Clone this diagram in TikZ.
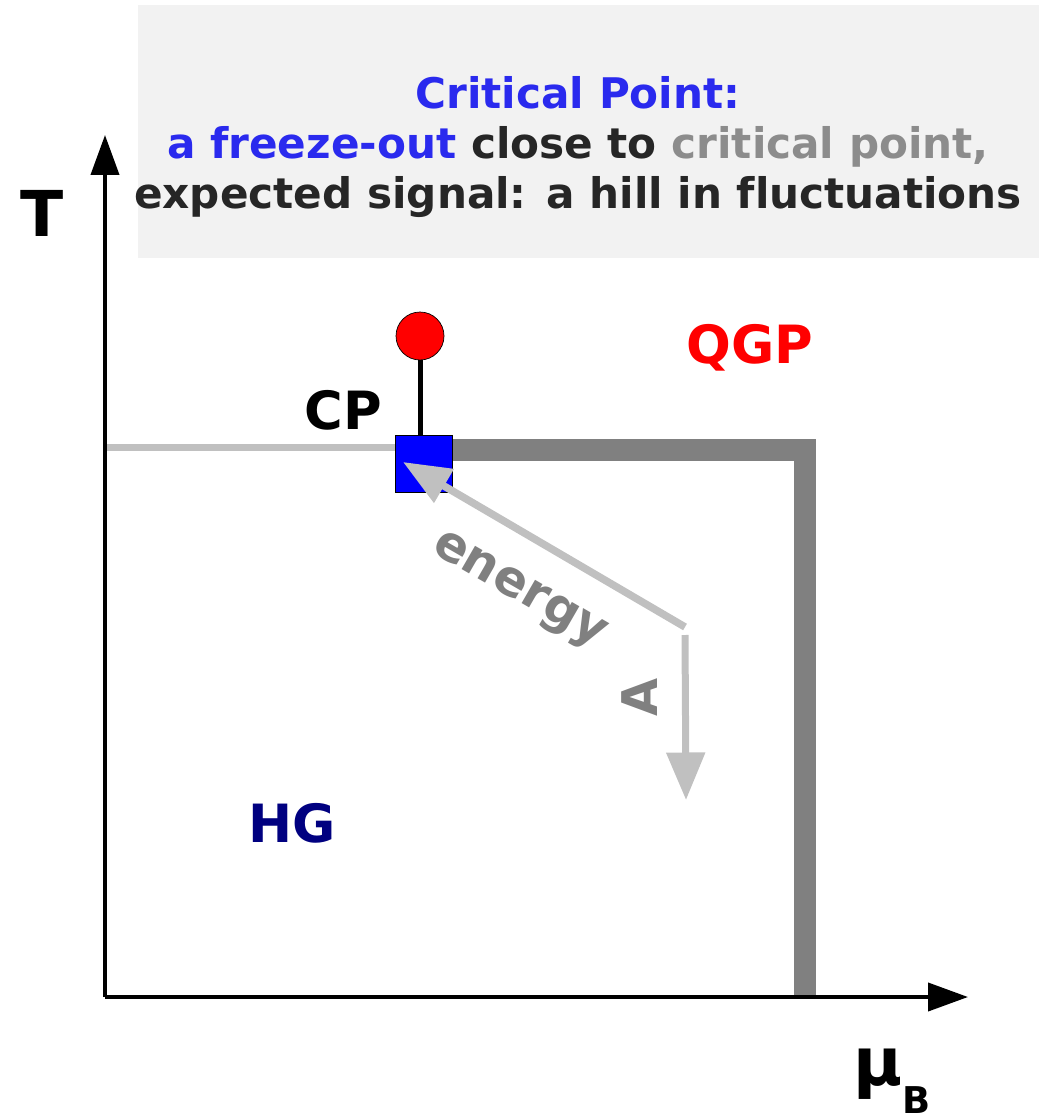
\documentclass[tikz,border=0pt]{standalone}
\usepackage{fontspec}
\setmainfont{DejaVu Sans}[Ligatures=NoCommon]
\usetikzlibrary{arrows.meta}
\definecolor{titleblue}{RGB}{42,42,238}
\definecolor{titledark}{RGB}{38,38,38}
\definecolor{titlegray}{RGB}{140,140,140}
\definecolor{boxgray}{RGB}{242,242,242}
\definecolor{lightline}{RGB}{192,192,192}
\definecolor{darkline}{RGB}{128,128,128}
\definecolor{hgblue}{RGB}{0,0,128}
\begin{document}
\begin{tikzpicture}[
      x = 0.02cm, y = -0.02cm,
      axis/.style = {
        line width = 0.08cm,
        -{Triangle[length=0.8cm,width=0.56cm]}
      }, flow/.style = {
        lightline, line width = 0.15cm,
        -{Triangle[length=0.95cm,width=0.75cm]}
      }, region/.style = {
        font = \fontsize{30}{30}\selectfont\bfseries
      }
    ]
      \tikzset{tag/.style={text=darkline,font=\fontsize{28}{28}\selectfont\bfseries,inner sep=0pt}}
      \useasboundingbox (0,0) rectangle (1039,1118);
      \fill[boxgray] (138,5) rectangle (1039,258);
      \node[align=center,font=\fontsize{24}{28.5}\selectfont\bfseries,text=titledark]
        (title) at (578,147)
        {\textcolor{titleblue}{Critical Point:}\\
         \textcolor{titleblue}{a freeze-out} close to \textcolor{titlegray}{critical point,}\\
         expected signal: a hill in fluctuations};
      \coordinate (origin) at (105,997);
      \coordinate (ytip) at (105,135);
      \coordinate (xtip) at (968,997);
      \node[draw=black,fill=blue,line width=0.4pt,minimum size=1.14cm,inner sep=0pt]
        (cp) at (423.5,464) {};
      \node[draw=black,fill=red,circle,line width=0.4pt,minimum size=0.96cm,inner sep=0pt]
        (crit) at (420,336) {};
      \coordinate (left) at (105,447);
      \coordinate (corner) at (805,450);
      \coordinate (bottom) at (805,997);
      \draw[lightline,line width=0.14cm] (left) -- (left -| cp.west);
      \draw[darkline,line width=0.44cm,line join=miter] (cp.east |- corner) -- (corner) -- (bottom);
      \draw[axis] (origin) -- (ytip);
      \draw[axis] (origin) -- (xtip);
      \draw[line width=0.1cm] (crit) -- (crit |- cp.north);
      \node[draw=black,fill=blue,line width=0.4pt,minimum size=1.14cm,inner sep=0pt] at (cp) {};
      \coordinate (start) at (685,627);
      \coordinate (etip) at (403,462);
      \coordinate (astart) at (685,635);
      \coordinate (atip) at (686,800);
      \draw[flow] (start) -- (etip);
      \draw[flow,line width=0.14cm] (astart) -- (atip);
      \node[tag,rotate=-30] (energy) at (518,592) {energy};
      \node[tag,rotate=90] (alabel) at (640,697) {A};
      \node[region] (cplabel) at (343,410) {CP};
      \node[region,text=red] (qgp) at (750,348) {QGP};
      \node[region,text=hgblue] (hg) at (292,823) {HG};
      \node[font=\fontsize{36}{36}\selectfont\bfseries] (tlabel) at (42,213) {T};
      \node[font=\fontsize{38}{38}\selectfont\bfseries,anchor=base west,inner sep=0pt]
        (mub) at (853,1085) {μ\raisebox{-0.42em}{\fontsize{21}{21}\selectfont B}};
    \end{tikzpicture}
\end{document}
